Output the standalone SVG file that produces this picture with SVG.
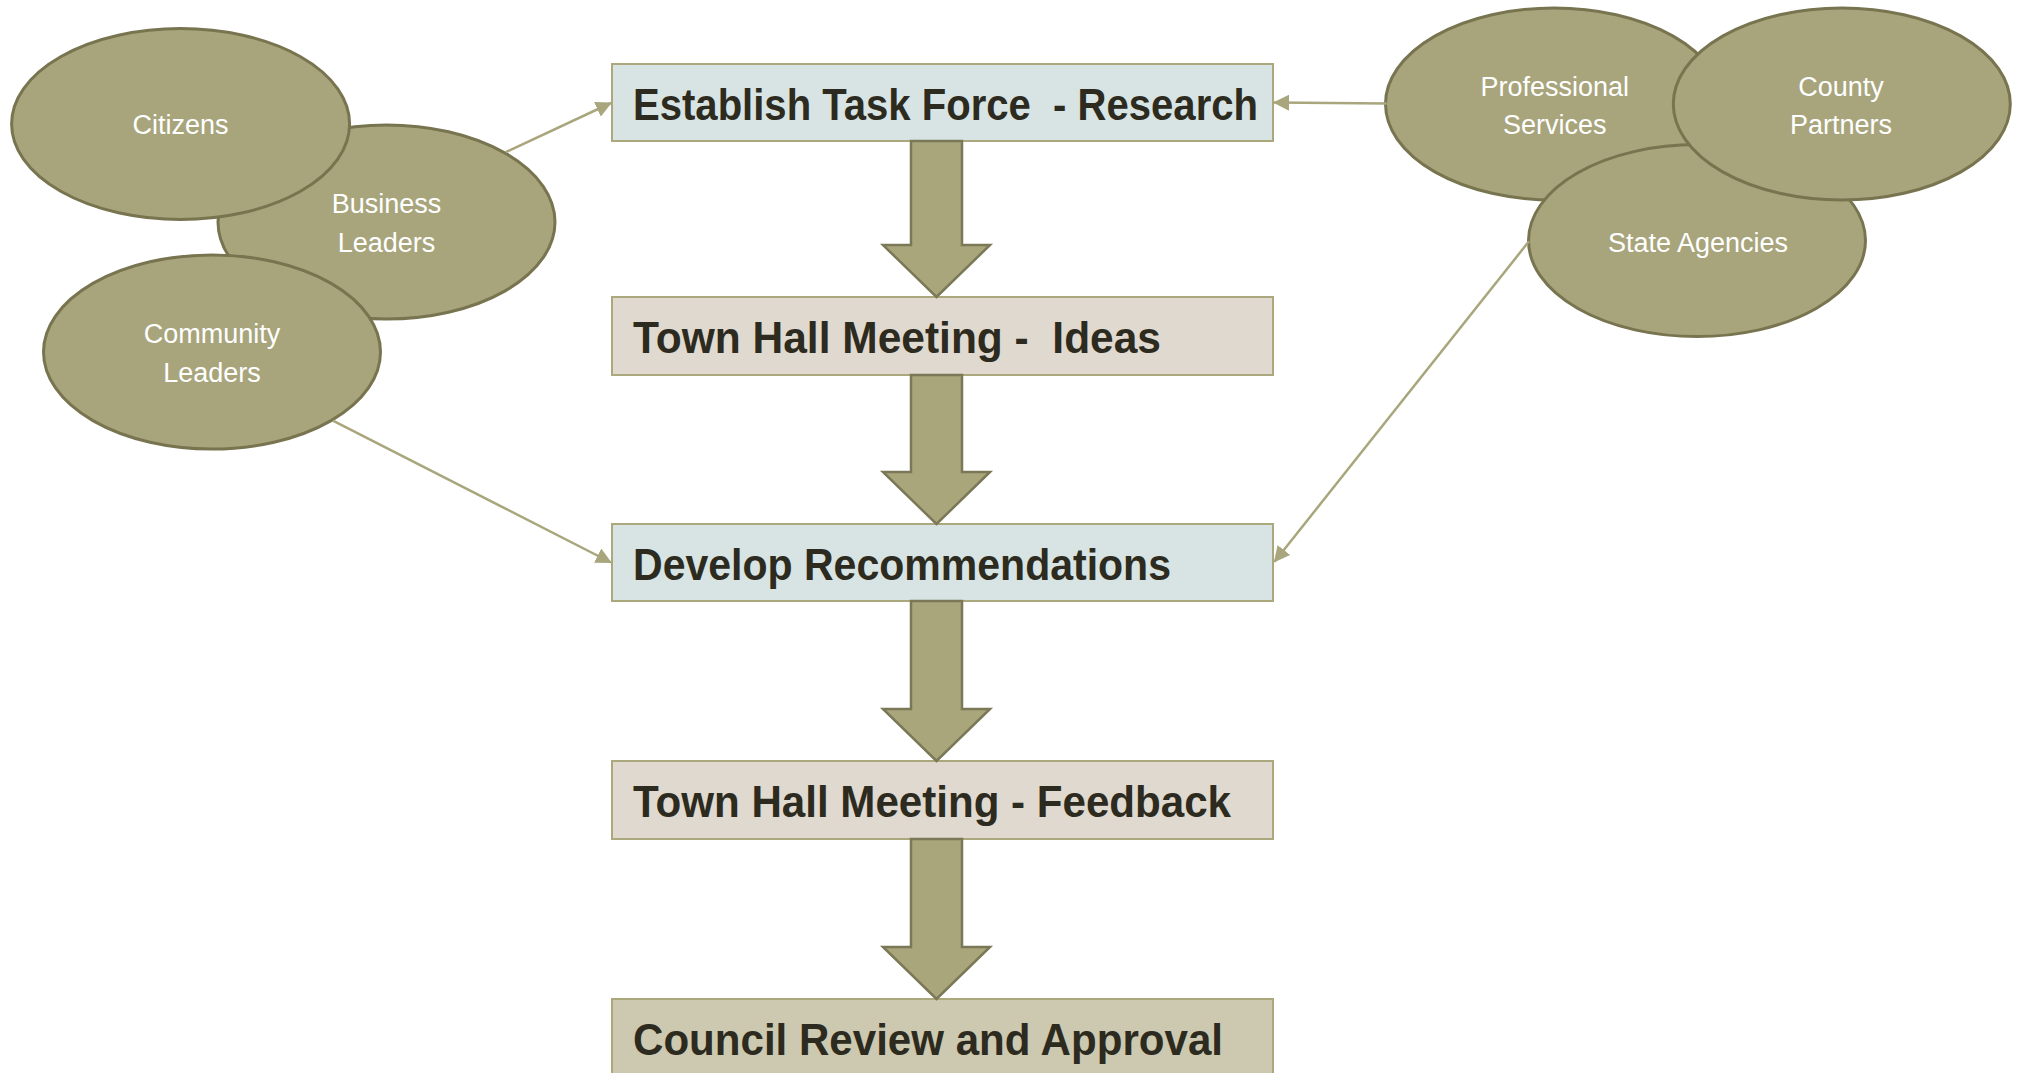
<svg xmlns="http://www.w3.org/2000/svg" width="2023" height="1073" viewBox="0 0 2023 1073">
<style>
.oval{fill:#A8A57C;stroke:#77744F;stroke-width:3}
.olbl{fill:#FFFFFF;font-family:"Liberation Sans",Arial,sans-serif;font-size:27px;text-anchor:middle}
.box{stroke:#ABA87E;stroke-width:2}
.blue{fill:#D7E4E3}
.sand{fill:#DFD9CF}
.olive{fill:#CCC9B0}
.blbl{fill:#2D2B20;font-family:"Liberation Sans",Arial,sans-serif;font-size:44px;font-weight:bold}
.link{stroke:#A9A67D;stroke-width:2.5;fill:none;marker-end:url(#tri)}
.block{fill:#A9A67C;stroke:#7B7857;stroke-width:2.5;stroke-linejoin:miter}
</style>
<defs>
<marker id="tri" viewBox="0 0 16 16" refX="15" refY="8" markerUnits="userSpaceOnUse" markerWidth="16" markerHeight="16" orient="auto">
<path d="M0,0 L16,8 L0,16 z" fill="#A9A67D"/>
</marker>
</defs>
<rect width="2023" height="1073" fill="#FFFFFF"/>

<g id="business-leaders">
<ellipse class="oval" cx="386.5" cy="222" rx="168.5" ry="97"/>
<text class="olbl" x="386.5" y="213">Business</text>
<text class="olbl" x="386.5" y="251.5">Leaders</text>
</g>
<g id="citizens">
<ellipse class="oval" cx="180.6" cy="124" rx="169" ry="95.5"/>
<text class="olbl" x="180.6" y="133.5">Citizens</text>
</g>
<g id="community-leaders">
<ellipse class="oval" cx="212" cy="352" rx="168.5" ry="97"/>
<text class="olbl" x="212" y="343">Community</text>
<text class="olbl" x="212" y="382">Leaders</text>
</g>
<g id="professional-services">
<ellipse class="oval" cx="1554" cy="104" rx="168.5" ry="96"/>
<text class="olbl" x="1554.7" y="96">Professional</text>
<text class="olbl" x="1554.7" y="133.5">Services</text>
</g>
<g id="state-agencies">
<ellipse class="oval" cx="1697" cy="240.6" rx="168.5" ry="96"/>
<text class="olbl" x="1698" y="252">State Agencies</text>
</g>
<g id="county-partners">
<ellipse class="oval" cx="1841.8" cy="104" rx="168.5" ry="96"/>
<text class="olbl" x="1841" y="96">County</text>
<text class="olbl" x="1841" y="133.5">Partners</text>
</g>

<g id="establish-task-force">
<rect class="box blue" x="612" y="64" width="661" height="77"/>
<text class="blbl" x="633" y="119.5" textLength="625" lengthAdjust="spacingAndGlyphs" xml:space="preserve">Establish Task Force  - Research</text>
</g>
<g id="town-hall-ideas">
<rect class="box sand" x="612" y="297" width="661" height="78"/>
<text class="blbl" x="633" y="352.5" textLength="528" lengthAdjust="spacingAndGlyphs" xml:space="preserve">Town Hall Meeting -  Ideas</text>
</g>
<g id="develop-recommendations">
<rect class="box blue" x="612" y="524" width="661" height="77"/>
<text class="blbl" x="633" y="579.5" textLength="538" lengthAdjust="spacingAndGlyphs">Develop Recommendations</text>
</g>
<g id="town-hall-feedback">
<rect class="box sand" x="612" y="761" width="661" height="78"/>
<text class="blbl" x="633" y="816.5" textLength="598" lengthAdjust="spacingAndGlyphs">Town Hall Meeting - Feedback</text>
</g>
<g id="council-review">
<rect class="box olive" x="612" y="999" width="661" height="90"/>
<text class="blbl" x="633" y="1054.5" textLength="590" lengthAdjust="spacingAndGlyphs">Council Review and Approval</text>
</g>

<g id="connectors">
<line class="link" x1="505.8" y1="152.2" x2="611" y2="103"/>
<line class="link" x1="332.9" y1="420.6" x2="611" y2="562.5"/>
<line class="link" x1="1386.7" y1="103.5" x2="1274" y2="102.5"/>
<line class="link" x1="1529" y1="241.3" x2="1274.5" y2="561.7"/>
<polygon class="block" points="911,141 962,141 962,245 990,245 936.5,297 883,245 911,245"/>
<polygon class="block" points="911,375 962,375 962,472 990,472 936.5,524 883,472 911,472"/>
<polygon class="block" points="911,601 962,601 962,709 990,709 936.5,761 883,709 911,709"/>
<polygon class="block" points="911,839 962,839 962,947 990,947 936.5,999 883,947 911,947"/>
</g>
</svg>
